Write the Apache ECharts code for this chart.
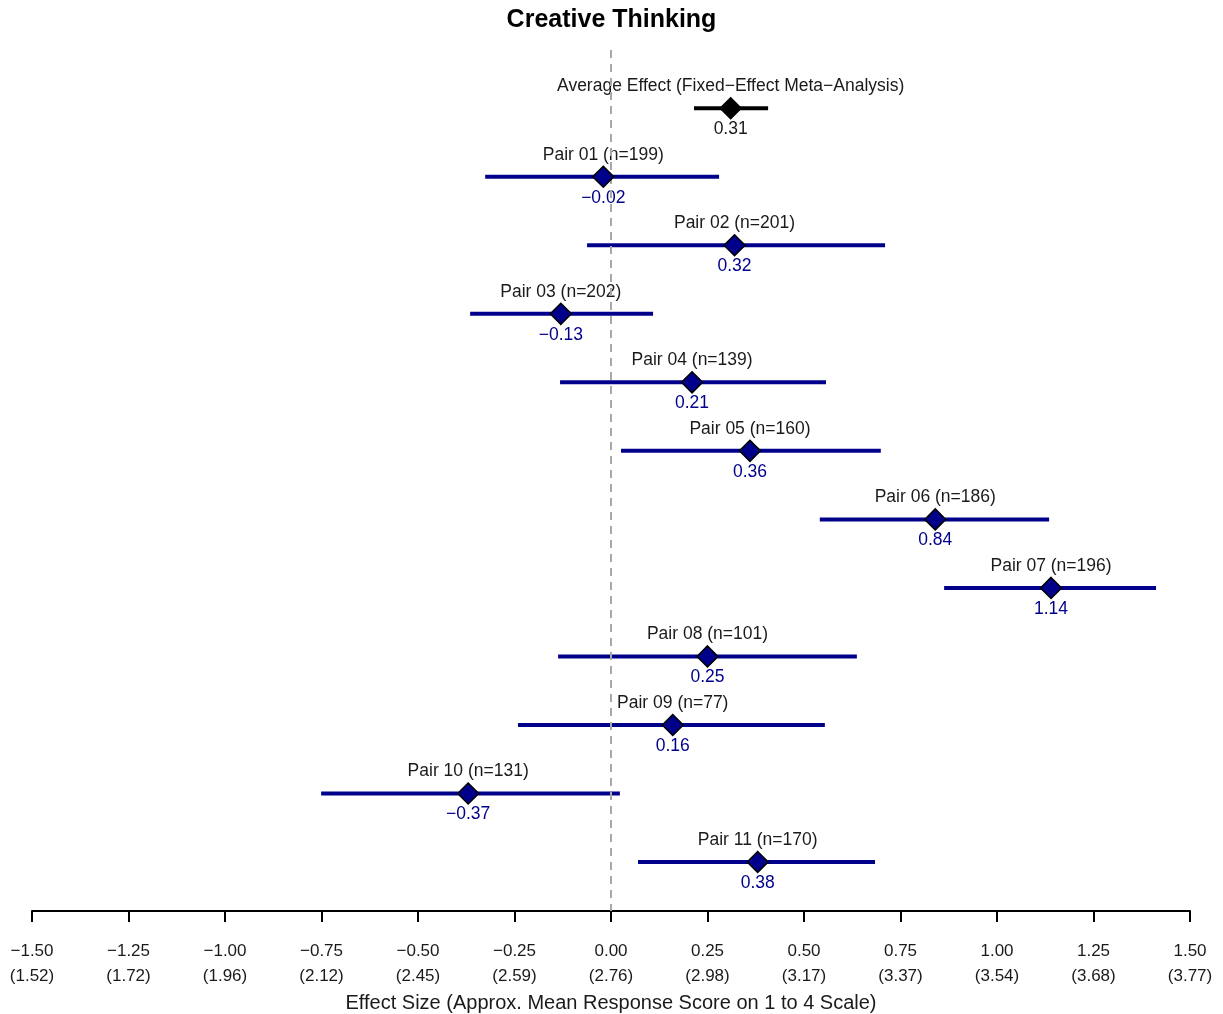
<!DOCTYPE html>
<html>
<head>
<meta charset="utf-8">
<title>Creative Thinking</title>
<script src="https://cdn.jsdelivr.net/npm/echarts@6/dist/echarts.min.js"></script>
<style>
  html, body { margin: 0; padding: 0; background: #fff; }
  #chart { width: 1223px; height: 1014px; }
</style>
</head>
<body>
<div id="chart"></div>
<script>
// 行标签（从上到下）
var rowNames = [
  'Average Effect (Fixed\u2212Effect Meta\u2212Analysis)',
  'Pair 01 (n=199)', 'Pair 02 (n=201)', 'Pair 03 (n=202)', 'Pair 04 (n=139)',
  'Pair 05 (n=160)', 'Pair 06 (n=186)', 'Pair 07 (n=196)', 'Pair 08 (n=101)',
  'Pair 09 (n=77)', 'Pair 10 (n=131)', 'Pair 11 (n=170)'
]
// 效应量点估计
var effects = [0.31, -0.02, 0.32, -0.13, 0.21, 0.36, 0.84, 1.14, 0.25, 0.16, -0.37, 0.38]
// 置信区间下限 / 上限
var ciLow = [0.215, -0.326, -0.062, -0.365, -0.132, 0.026, 0.541, 0.863, -0.137, -0.241, -0.751, 0.070]
var ciHigh = [0.407, 0.280, 0.710, 0.109, 0.557, 0.699, 1.135, 1.412, 0.637, 0.554, 0.023, 0.684]
// X轴刻度及对应的平均分
var tickValues = [-1.5, -1.25, -1, -0.75, -0.5, -0.25, 0, 0.25, 0.5, 0.75, 1, 1.25, 1.5]
var tickScores = ['1.52', '1.72', '1.96', '2.12', '2.45', '2.59', '2.76', '2.98', '3.17', '3.37', '3.54', '3.68', '3.77']

var NAVY = '#00008B'
var FONT = 'Liberation Sans, Arial, sans-serif'

function fmt (v) {
  var s = Math.abs(v).toFixed(2)
  return v < 0 ? '\u2212' + s : s
}

var rows = effects.map(function (v, i) {
  return [ciLow[i], ciHigh[i], i, v]
})

var chart = echarts.init(document.getElementById('chart'))

chart.setOption({
  backgroundColor: '#fff',
  animation: false,
  title: {
    text: 'Creative Thinking',
    left: 'center',
    top: 3,
    textStyle: { fontFamily: FONT, fontSize: 25, fontWeight: 'bold', color: '#000' }
  },
  grid: { left: 32, right: 33, top: 50, bottom: 103, outerBoundsMode: 'none' },
  xAxis: {
    type: 'value',
    min: -1.5,
    max: 1.5,
    interval: 0.25,
    splitLine: { show: false },
    axisLine: { show: true, onZero: false, lineStyle: { color: '#000', width: 2 } },
    axisTick: { show: true, length: 11, lineStyle: { color: '#000', width: 2 } },
    axisLabel: {
      margin: 28,
      fontFamily: FONT,
      fontSize: 17,
      color: '#1a1a1a',
      lineHeight: 25,
      formatter: function (v) {
        var idx = tickValues.findIndex(function (t) { return Math.abs(t - v) < 1e-6 })
        return fmt(v) + '\n(' + (idx >= 0 ? tickScores[idx] : '') + ')'
      }
    },
    name: 'Effect Size (Approx. Mean Response Score on 1 to 4 Scale)',
    nameLocation: 'middle',
    nameGap: 74,
    nameTextStyle: { fontFamily: FONT, fontSize: 20, color: '#1a1a1a' }
  },
  yAxis: {
    type: 'value',
    min: -0.85,
    max: 11.715,
    inverse: true,
    show: false
  },
  series: [
    {
      // 置信区间横线 + 标签
      type: 'custom',
      data: rows,
      z: 3,
      renderItem: function (params, api) {
        var i = api.value(2)
        var lo = api.coord([api.value(0), i])
        var hi = api.coord([api.value(1), i])
        var pt = api.coord([api.value(3), i])
        var isAvg = i === 0
        var color = isAvg ? '#000' : NAVY
        return {
          type: 'group',
          children: [
            {
              type: 'line',
              shape: { x1: lo[0], y1: lo[1], x2: hi[0], y2: hi[1] },
              style: { stroke: color, lineWidth: 4 }
            },
            {
              type: 'text',
              x: pt[0],
              y: pt[1] - 22,
              style: {
                text: rowNames[i],
                fill: '#1a1a1a',
                font: '17.5px ' + FONT,
                align: 'center',
                verticalAlign: 'middle'
              }
            },
            {
              type: 'text',
              x: pt[0],
              y: pt[1] + 21,
              style: {
                text: fmt(api.value(3)),
                fill: isAvg ? '#1a1a1a' : NAVY,
                font: '17.5px ' + FONT,
                align: 'center',
                verticalAlign: 'middle'
              }
            }
          ]
        }
      },
      markLine: {
        silent: true,
        symbol: 'none',
        label: { show: false },
        lineStyle: { color: '#a8a8a8', type: [8, 6], width: 2 },
        data: [{ xAxis: 0 }]
      }
    },
    {
      // 点估计菱形
      type: 'scatter',
      symbol: 'diamond',
      symbolSize: [21, 21],
      z: 5,
      data: effects.map(function (v, i) {
        return {
          value: [v, i],
          itemStyle: { color: i === 0 ? '#000' : NAVY, opacity: 1, borderColor: '#000', borderWidth: 1.5 }
        }
      })
    }
  ]
})

window.addEventListener('resize', function () { chart.resize() })
</script>
</body>
</html>
